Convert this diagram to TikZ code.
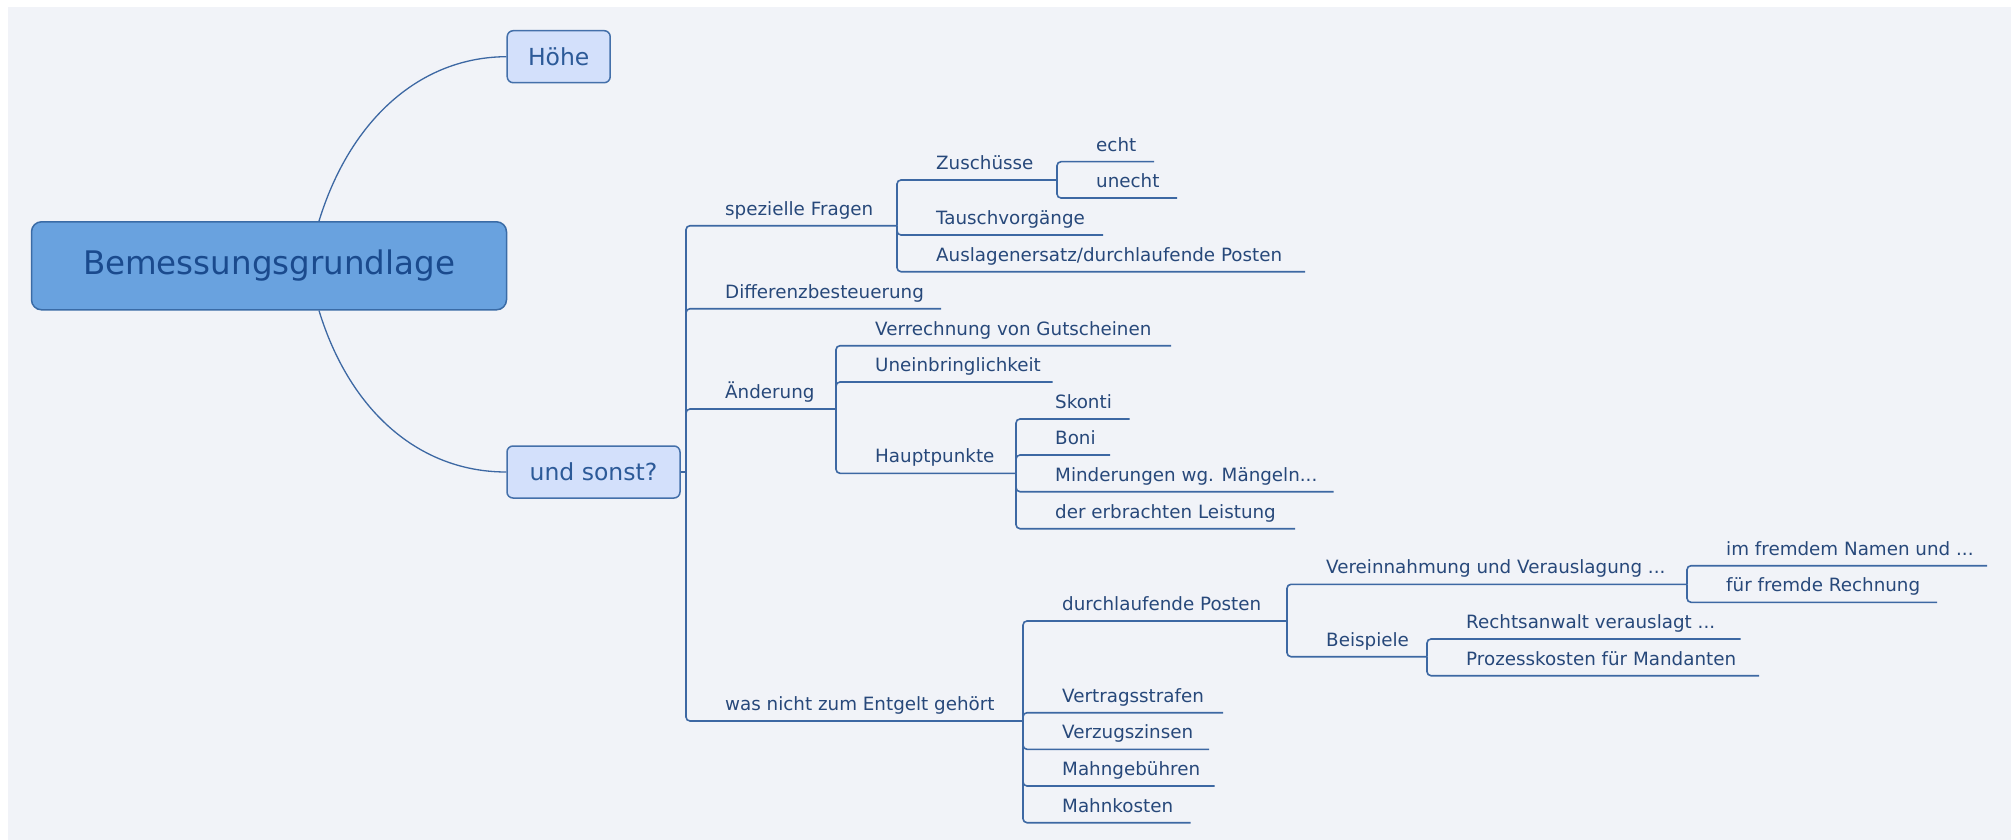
\documentclass[tikz,border=0pt]{standalone}
\usepackage{fontspec}
\setmainfont{DejaVu Sans}
\definecolor{bg}{HTML}{F1F3F8}
\definecolor{ln}{HTML}{3D68A3}
\definecolor{txt}{HTML}{27487A}
\definecolor{rootfill}{HTML}{69A2DF}
\definecolor{rootdraw}{HTML}{3A6BA6}
\definecolor{roottxt}{HTML}{1A4A8D}
\definecolor{mainfill}{HTML}{D3E0FB}
\definecolor{maindraw}{HTML}{4470AA}
\definecolor{maintxt}{HTML}{2C5A98}
\begin{document}
\begin{tikzpicture}[x=1pt,y=-1pt,
  conn/.style={draw=ln, line width=1.6pt, rounded corners=4pt},
  curve/.style={draw=ln, line width=1.3pt},
  lbl/.style={anchor=base west, inner sep=0pt, text=txt, font=\fontsize{18.3}{22}\selectfont},
  rootbox/.style={draw=rootdraw, fill=rootfill, line width=1.5pt, rounded corners=10pt,
    minimum width=475pt, minimum height=88pt, inner sep=0pt, text=roottxt,
    font=\fontsize{32.5}{38}\selectfont},
  mainbox/.style={draw=maindraw, fill=mainfill, line width=1.5pt, rounded corners=6pt,
    minimum height=52pt, inner sep=0pt, text=maintxt,
    font=\fontsize{23.5}{28}\selectfont}]
\useasboundingbox (0,0) rectangle (2011,840);
\fill[bg] (8,7) rectangle (2011,840);

% main nodes
\node[rootbox] (root) at (269,265.8) {Bemessungsgrundlage};
\node[mainbox, minimum width=103pt] (hoehe) at (558.7,56.7) {Höhe};
\node[mainbox, minimum width=173pt] (sonst) at (593.5,472) {und sonst?};

\draw[curve] ([xshift=50pt]root.north) .. controls (350,120) and (420,57) .. (hoehe.west);
\draw[curve] ([xshift=50pt]root.south) .. controls (350,412) and (420,472) .. (sonst.west);

% labels
\node[lbl] (sf) at (725,215.2) {spezielle Fragen};
\node[lbl] (db) at (725,298.2) {Differenzbesteuerung};
\node[lbl] (ae) at (725,398.5) {Änderung};
\node[lbl] (wn) at (725,710.5) {was nicht zum Entgelt gehört};
\node[lbl] (zu) at (936,169.5) {Zuschüsse};
\node[lbl] (tv) at (936,224.5) {Tauschvorgänge};
\node[lbl] (al) at (936,261.2) {Auslagenersatz/durchlaufende Posten};
\node[lbl] (ec) at (1096,151.2) {echt};
\node[lbl] (ue) at (1096,187.5) {unecht};
\node[lbl] (vg) at (875,335.2) {Verrechnung von Gutscheinen};
\node[lbl] (un) at (875,371.5) {Uneinbringlichkeit};
\node[lbl] (hp) at (875,462.8) {Hauptpunkte};
\node[lbl] (sk) at (1055,408.5) {Skonti};
\node[lbl] (bo) at (1055,444.5) {Boni};
\node[lbl] (mi) at (1055,481.2) {Minderungen wg. Mängeln...};
\node[lbl] (de) at (1055,518.2) {der erbrachten Leistung};
\node[lbl] (dp) at (1062,610.5) {durchlaufende Posten};
\node[lbl] (vs) at (1062,702.2) {Vertragsstrafen};
\node[lbl] (vz) at (1062,738.8) {Verzugszinsen};
\node[lbl] (mg) at (1062,775.5) {Mahngebühren};
\node[lbl] (mk) at (1062,812.2) {Mahnkosten};
\node[lbl] (vv) at (1326,573.8) {Vereinnahmung und Verauslagung ...};
\node[lbl] (bs) at (1326,646.2) {Beispiele};
\node[lbl] (im) at (1726,555.2) {im fremdem Namen und ...};
\node[lbl] (ff) at (1726,591.8) {für fremde Rechnung};
\node[lbl] (ra) at (1466,628.5) {Rechtsanwalt verauslagt ...};
\node[lbl] (pk) at (1466,665.2) {Prozesskosten für Mandanten};

% line end coordinates
\coordinate (usJ) at (686,472);
\coordinate (sfE) at (897,225.7);
\coordinate (dbE) at (941,308.7);
\coordinate (aeE) at (836,409);
\coordinate (wnE) at (1023,721);
\coordinate (zuE) at (1057,180);
\coordinate (tvE) at (1103,235);
\coordinate (alE) at (1305,271.7);
\coordinate (ecE) at (1154,161.7);
\coordinate (ueE) at (1177,198);
\coordinate (vgE) at (1171,345.7);
\coordinate (unE) at (1052.5,382);
\coordinate (hpE) at (1016,473.3);
\coordinate (skE) at (1129.5,419);
\coordinate (boE) at (1110,455);
\coordinate (miE) at (1333.6,491.7);
\coordinate (deE) at (1295,528.7);
\coordinate (dpE) at (1287,621);
\coordinate (vsE) at (1223,712.7);
\coordinate (vzE) at (1209,749.3);
\coordinate (mgE) at (1214.5,786);
\coordinate (mkE) at (1190.6,822.7);
\coordinate (vvE) at (1687,584.3);
\coordinate (bsE) at (1427,656.7);
\coordinate (imE) at (1987,565.7);
\coordinate (ffE) at (1937,602.3);
\coordinate (raE) at (1740.6,639);
\coordinate (pkE) at (1759,675.7);

% connectors
\draw[conn] (sonst.east) -- (usJ);
\foreach \c in {sfE,dbE,aeE,wnE} \draw[conn] (usJ) |- (\c);
\foreach \c in {zuE,tvE,alE} \draw[conn] (sfE) |- (\c);
\foreach \c in {ecE,ueE} \draw[conn] (zuE) |- (\c);
\foreach \c in {vgE,unE,hpE} \draw[conn] (aeE) |- (\c);
\foreach \c in {skE,boE,miE,deE} \draw[conn] (hpE) |- (\c);
\foreach \c in {dpE,vsE,vzE,mgE,mkE} \draw[conn] (wnE) |- (\c);
\foreach \c in {vvE,bsE} \draw[conn] (dpE) |- (\c);
\foreach \c in {imE,ffE} \draw[conn] (vvE) |- (\c);
\foreach \c in {raE,pkE} \draw[conn] (bsE) |- (\c);
\end{tikzpicture}
\end{document}
